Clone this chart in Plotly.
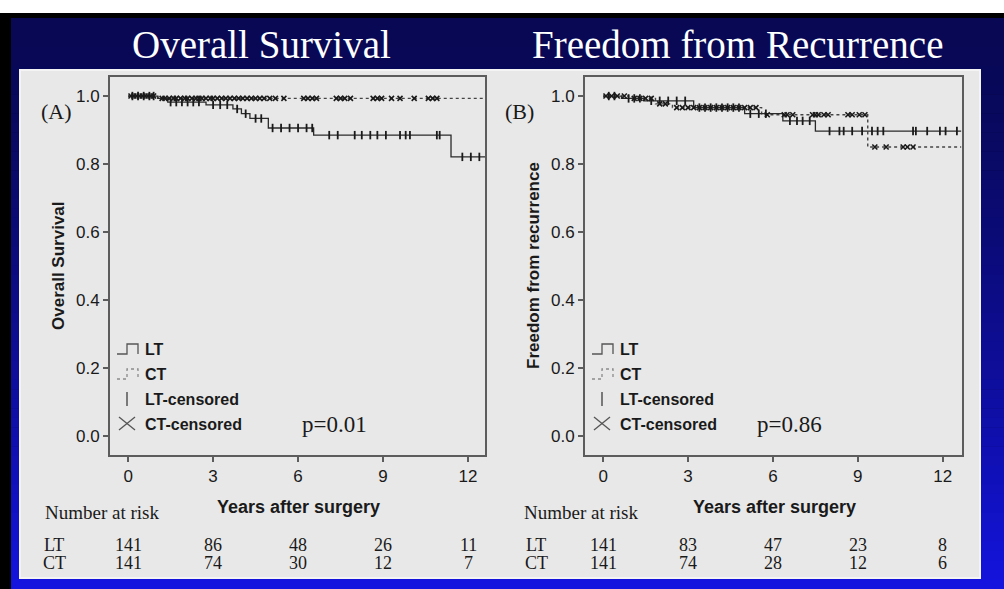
import numpy as np
import plotly.graph_objects as go

# ---------------- data ----------------
# Panel A: overall survival (Kaplan-Meier step points)
os_lt_t = [0.0, 1.05, 1.4, 2.75, 3.7, 4.0, 4.3, 4.95, 6.55, 11.4, 12.6]
os_lt_s = [1.0, 0.993, 0.982, 0.974, 0.962, 0.948, 0.934, 0.906, 0.885, 0.821, 0.821]
os_ct_t = [0.0, 1.05, 12.6]
os_ct_s = [1.0, 0.993, 0.993]

os_lt_cens = [0.15, 0.35, 0.55, 0.75, 0.9, 1.5, 1.7, 1.9, 2.1, 2.3, 2.5, 3.0, 3.25, 3.5,
              3.85, 4.15, 4.5, 4.7, 5.1, 5.4, 5.7, 6.0, 6.3, 6.5, 7.1, 7.4, 8.0, 8.25,
              8.55, 8.8, 9.1, 9.6, 9.8, 9.95, 10.9, 11.0, 11.8, 12.1, 12.4]
os_ct_cens = [0.1, 0.2, 0.3, 0.4, 0.5, 0.6, 0.7, 0.8, 0.9, 1.2, 1.3, 1.45, 1.6, 1.7, 1.85,
              2.0, 2.1, 2.25, 2.4, 2.5, 2.6, 2.75, 2.9, 3.0, 3.15, 3.3, 3.45, 3.6, 3.75,
              3.9, 4.05, 4.2, 4.35, 4.5, 4.65, 4.8, 5.0, 5.2, 5.5, 6.2, 6.35, 6.5, 6.65,
              7.35, 7.5, 7.65, 7.85, 8.65, 8.8, 8.95, 9.3, 9.6, 10.1, 10.6, 10.75, 10.9]

# Panel B: freedom from recurrence
rf_lt_t = [0.0, 0.65, 1.45, 3.2, 5.0, 6.35, 7.5, 12.65]
rf_lt_s = [1.0, 0.993, 0.986, 0.966, 0.948, 0.927, 0.897, 0.897]
rf_ct_t = [0.0, 0.9, 1.85, 2.45, 5.6, 9.35, 12.65]
rf_ct_s = [1.0, 0.993, 0.977, 0.966, 0.945, 0.85, 0.85]

rf_lt_cens = [0.2, 0.4, 0.9, 1.1, 1.3, 1.7, 2.0, 2.3, 2.6, 2.9, 3.4, 3.6, 3.8, 4.0, 4.2,
              4.4, 4.6, 4.8, 5.2, 5.5, 5.75, 6.6, 6.85, 7.05, 7.3, 8.0, 8.35, 8.5, 8.8,
              9.15, 9.5, 9.7, 9.9, 10.95, 11.05, 11.45, 11.9, 12.1, 12.5]
rf_ct_cens = [0.1, 0.3, 0.5, 0.75, 1.1, 1.3, 1.5, 1.7, 2.0, 2.2, 2.6, 2.8, 3.0, 3.2, 3.4,
              3.6, 3.8, 4.0, 4.2, 4.4, 4.6, 4.8, 5.0, 5.2, 5.4, 5.8, 6.4, 6.5, 6.7, 7.4,
              7.5, 7.6, 7.8, 7.95, 8.65, 8.8, 9.05, 9.25, 9.6, 10.0, 10.6, 10.75, 10.95]

# number at risk
risk_years = [0, 3, 6, 9, 12]
os_risk_lt = [141, 86, 48, 26, 11]
os_risk_ct = [141, 74, 30, 12, 7]
rf_risk_lt = [141, 83, 47, 23, 8]
rf_risk_ct = [141, 74, 28, 12, 6]

p_values = ["p=0.01", "p=0.86"]
panel_titles = ["Overall Survival", "Freedom from Recurrence"]
panel_tags = ["(A)", "(B)"]
y_titles = ["Overall Survival", "Freedom from recurrence"]
x_title = "Years after surgery"
legend_labels = ["LT", "CT", "LT-censored", "CT-censored"]
y_ticks = [0.0, 0.2, 0.4, 0.6, 0.8, 1.0]
x_ticks = [0, 3, 6, 9, 12]

# ---------------- layout helpers ----------------
W, H = 1004, 589
SERIF = "Liberation Serif, Times New Roman, serif"
SANS = "Liberation Sans, Arial, sans-serif"
INK = "#1a1a1a"


def px(x):
    return x / W


def py(y):
    return 1 - y / H


def step_value(times, surv, t):
    idx = np.searchsorted(np.asarray(times), t, side="right") - 1
    return np.asarray(surv)[idx]


fig = go.Figure()

panels = [
    dict(xa="x", ya="y", lt=(os_lt_t, os_lt_s, os_lt_cens), ct=(os_ct_t, os_ct_s, os_ct_cens)),
    dict(xa="x2", ya="y2", lt=(rf_lt_t, rf_lt_s, rf_lt_cens), ct=(rf_ct_t, rf_ct_s, rf_ct_cens)),
]

for p in panels:
    lt_t, lt_s, lt_c = p["lt"]
    ct_t, ct_s, ct_c = p["ct"]
    fig.add_trace(go.Scatter(x=ct_t, y=ct_s, mode="lines", line_shape="hv",
                             line=dict(color="#444444", width=1.4, dash="dot"),
                             xaxis=p["xa"], yaxis=p["ya"], showlegend=False))
    fig.add_trace(go.Scatter(x=lt_t, y=lt_s, mode="lines", line_shape="hv",
                             line=dict(color="#2a2a2a", width=1.3),
                             xaxis=p["xa"], yaxis=p["ya"], showlegend=False))
    fig.add_trace(go.Scatter(x=ct_c, y=step_value(ct_t, ct_s, ct_c), mode="markers",
                             marker=dict(symbol="x-thin-open", size=5, color="#1a1a1a",
                                         line=dict(color="#1a1a1a", width=1.6)),
                             xaxis=p["xa"], yaxis=p["ya"], showlegend=False))
    fig.add_trace(go.Scatter(x=lt_c, y=step_value(lt_t, lt_s, lt_c), mode="markers",
                             marker=dict(symbol="line-ns-open", size=6, color="#1a1a1a",
                                         line=dict(color="#1a1a1a", width=1.8)),
                             xaxis=p["xa"], yaxis=p["ya"], showlegend=False))

axis_style = dict(showline=True, mirror=True, linecolor="#5c5c5c", linewidth=2,
                  ticks="outside", ticklen=5, tickwidth=1.5, tickcolor="#5c5c5c",
                  showgrid=False, zeroline=False,
                  tickfont=dict(family=SANS, size=17, color=INK))

fig.update_layout(
    width=W, height=H,
    margin=dict(l=0, r=0, t=0, b=0),
    paper_bgcolor="white",
    plot_bgcolor="#e8e8e8",
    showlegend=False,
    xaxis=dict(domain=[px(110), px(485)], range=[-0.64, 12.6], tickvals=x_ticks,
               anchor="y", **axis_style),
    yaxis=dict(domain=[py(455), py(77)], range=[-0.056, 1.056], tickvals=y_ticks,
               tickformat=".1f", anchor="x", **axis_style),
    xaxis2=dict(domain=[px(585), px(962)], range=[-0.64, 12.68], tickvals=x_ticks,
                anchor="y2", **axis_style),
    yaxis2=dict(domain=[py(455), py(77)], range=[-0.056, 1.056], tickvals=y_ticks,
                tickformat=".1f", anchor="x2", **axis_style),
)

shapes = []
# black frame and blue gradient backdrop
shapes.append(dict(type="rect", xref="paper", yref="paper", x0=0, x1=1, y0=0, y1=py(13),
                   fillcolor="black", line=dict(width=0), layer="below"))
n_strips = 60
top_rgb = np.array([8, 8, 84])
bot_rgb = np.array([20, 20, 222])
y_start, y_end = 18, H
for i in range(n_strips):
    f = i / (n_strips - 1)
    c = (top_rgb + (bot_rgb - top_rgb) * f ** 1.4).astype(int)
    ya = y_start + (y_end - y_start) * i / n_strips
    yb = y_start + (y_end - y_start) * (i + 1) / n_strips + 0.6
    shapes.append(dict(type="rect", xref="paper", yref="paper", x0=px(11), x1=1,
                       y0=py(min(yb, H)), y1=py(ya),
                       fillcolor=f"rgb({c[0]},{c[1]},{c[2]})", line=dict(width=0),
                       layer="below"))
# light gray chart panel
shapes.append(dict(type="rect", xref="paper", yref="paper", x0=px(20), x1=px(980),
                   y0=py(578), y1=py(70), fillcolor="#e8e8e8",
                   line=dict(color="#f4f4f4", width=2), layer="below"))

annotations = []
title_x = [261, 737]
tag_x = [56, 519]
ytitle_x = [58, 533]
xtitle_x = [298, 774]
pval_x = [334, 789]
legend_icon_x = [117, 592]
risk_label_x = [54, 536]
nar_x = [102, 581]
x_refs = ["x", "x2"]
risk_rows = [(os_risk_lt, os_risk_ct), (rf_risk_lt, rf_risk_ct)]

for k in range(2):
    annotations.append(dict(text=panel_titles[k], x=px(title_x[k]), y=py(45),
                            xref="paper", yref="paper", showarrow=False,
                            font=dict(family=SERIF, size=39, color="white"),
                            xanchor="center", yanchor="middle"))
    annotations.append(dict(text=panel_tags[k], x=px(tag_x[k]), y=py(111),
                            xref="paper", yref="paper", showarrow=False,
                            font=dict(family=SERIF, size=22, color=INK),
                            xanchor="center", yanchor="middle"))
    annotations.append(dict(text=f"<b>{y_titles[k]}</b>", x=px(ytitle_x[k]), y=py(266),
                            xref="paper", yref="paper", showarrow=False, textangle=-90,
                            font=dict(family=SANS, size=17, color=INK),
                            xanchor="center", yanchor="middle"))
    annotations.append(dict(text=f"<b>{x_title}</b>", x=px(xtitle_x[k]), y=py(507),
                            xref="paper", yref="paper", showarrow=False,
                            font=dict(family=SANS, size=18, color=INK),
                            xanchor="center", yanchor="middle"))
    annotations.append(dict(text=p_values[k], x=px(pval_x[k]), y=py(424),
                            xref="paper", yref="paper", showarrow=False,
                            font=dict(family=SERIF, size=23, color=INK),
                            xanchor="center", yanchor="middle"))
    annotations.append(dict(text="Number at risk", x=px(nar_x[k]), y=py(512),
                            xref="paper", yref="paper", showarrow=False,
                            font=dict(family=SERIF, size=19, color=INK),
                            xanchor="center", yanchor="middle"))
    # number-at-risk rows aligned with the x ticks
    for row, (lab, vals) in enumerate(zip(["LT", "CT"], risk_rows[k])):
        yy = py(545 + row * 18)
        annotations.append(dict(text=lab, x=px(risk_label_x[k]), y=yy, xref="paper",
                                yref="paper", showarrow=False,
                                font=dict(family=SERIF, size=18, color=INK),
                                xanchor="center", yanchor="middle"))
        for t, v in zip(risk_years, vals):
            annotations.append(dict(text=str(v), x=t, y=yy, xref=x_refs[k], yref="paper",
                                    showarrow=False,
                                    font=dict(family=SERIF, size=18, color=INK),
                                    xanchor="center", yanchor="middle"))
    # in-plot legend
    lx = legend_icon_x[k]
    text_x = lx + 26
    rows_y = [349, 374, 399, 424]
    for lbl, yy in zip(legend_labels, rows_y):
        annotations.append(dict(text=f"<b>{lbl}</b>", x=px(text_x), y=py(yy),
                                xref="paper", yref="paper", showarrow=False,
                                font=dict(family=SANS, size=16, color=INK),
                                xanchor="left", yanchor="middle"))
    step_path = (f"M {px(lx)} {py(354)} L {px(lx + 10)} {py(354)} L {px(lx + 10)} {py(344)} "
                 f"L {px(lx + 21)} {py(344)} L {px(lx + 21)} {py(354)}")
    shapes.append(dict(type="path", xref="paper", yref="paper", path=step_path,
                       line=dict(color="#555555", width=1.3)))
    dot_path = (f"M {px(lx)} {py(379)} L {px(lx + 10)} {py(379)} L {px(lx + 10)} {py(369)} "
                f"L {px(lx + 21)} {py(369)} L {px(lx + 21)} {py(379)}")
    shapes.append(dict(type="path", xref="paper", yref="paper", path=dot_path,
                       line=dict(color="#8a8a8a", width=1.3, dash="dot")))
    shapes.append(dict(type="line", xref="paper", yref="paper",
                       x0=px(lx + 10), x1=px(lx + 10), y0=py(406), y1=py(392),
                       line=dict(color="#555555", width=1.5)))
    shapes.append(dict(type="line", xref="paper", yref="paper",
                       x0=px(lx + 2), x1=px(lx + 18), y0=py(430), y1=py(417),
                       line=dict(color="#555555", width=1.3)))
    shapes.append(dict(type="line", xref="paper", yref="paper",
                       x0=px(lx + 2), x1=px(lx + 18), y0=py(417), y1=py(430),
                       line=dict(color="#555555", width=1.3)))

fig.update_layout(shapes=shapes, annotations=annotations)
fig.write_html("out.html")
